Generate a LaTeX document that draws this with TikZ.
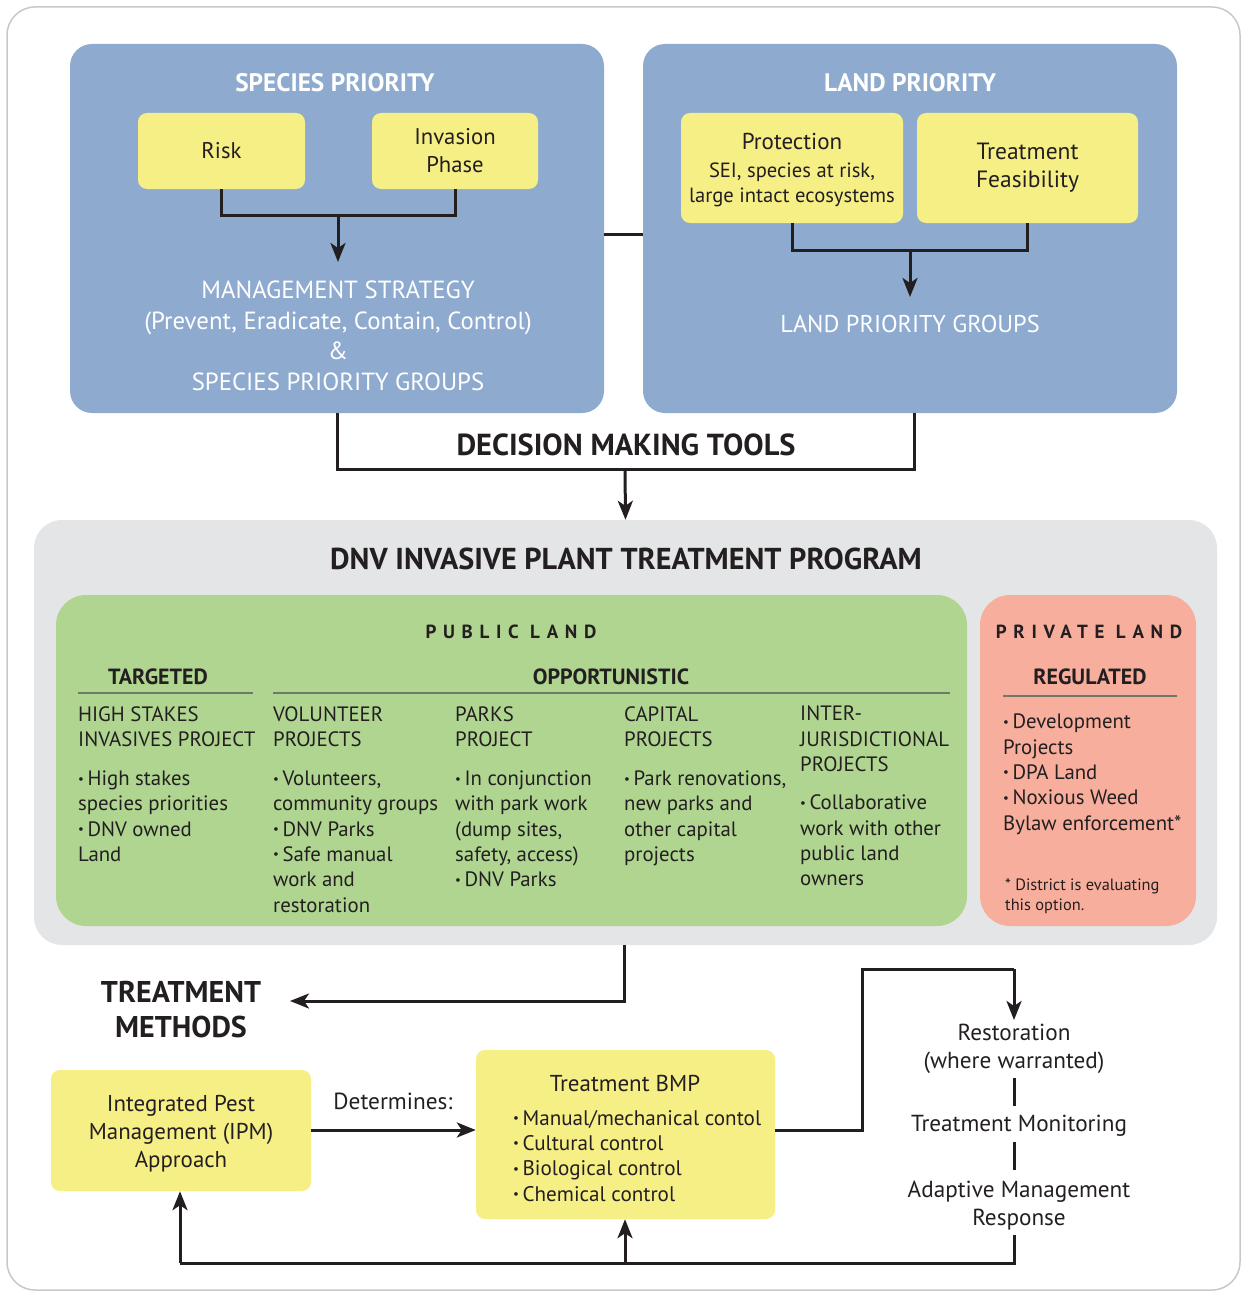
\documentclass[tikz,border=0pt]{standalone}
\usepackage{fontspec}
\setmainfont{PT Sans}
\newfontfamily\spacedfont{PT Sans}[LetterSpace=35]
\usetikzlibrary{arrows.meta}
\definecolor{bluebox}{HTML}{8EABCF}
\definecolor{yelbox}{HTML}{F6EF86}
\definecolor{graybox}{HTML}{E4E5E7}
\definecolor{greenbox}{HTML}{AFD591}
\definecolor{pinkbox}{HTML}{F7AE9C}
\definecolor{ink}{HTML}{231F20}
\definecolor{rulegray}{HTML}{6D7A68}
\definecolor{framegray}{HTML}{C8C8C8}
\newcommand{\fsz}[2]{\fontsize{#1}{#2}\selectfont}
\newcommand{\bul}{\raisebox{0.25ex}{\scalebox{0.62}{\textbullet}}\kern3.5pt}
\tikzset{
  conn/.style={draw=ink, line width=3pt},
  arr/.style={conn, -{Stealth[length=19pt,width=15pt,inset=5pt]}},
  ybox/.style={fill=yelbox, rounded corners=9pt, inner sep=0pt, align=center, text=ink},
  panel/.style={fill=bluebox, rounded corners=22pt},
  coltext/.style={anchor=north west, inner sep=0pt, align=left, text=ink, font=\fsz{20.8}{25.3}},
  hdr/.style={inner sep=0pt, text=ink, font=\fsz{22}{24}\bfseries},
  wtitle/.style={inner sep=0pt, text=white, font=\fsz{25.3}{28}\bfseries},
  wtext/.style={inner sep=0pt, text=white, align=center, font=\fsz{24.8}{30.5}},
  plain/.style={inner sep=0pt, text=ink, align=center, font=\fsz{23.2}{28}},
}
\begin{document}
\begin{tikzpicture}[x=1pt,y=-1pt]
\useasboundingbox (0,0) rectangle (1242,1295);
% outer frame
\draw[framegray, line width=1.5pt, rounded corners=28pt] (7,7) rectangle (1240,1290);

% ---------- species priority panel
\node[panel, minimum width=534, minimum height=369] (spec) at (337,228.5) {};
\node[wtitle] (spectitle) at (335,83) {SPECIES PRIORITY};
\node[ybox, minimum width=167, minimum height=76, font=\fsz{22.7}{28}] (risk) at (221.5,151) {Risk};
\node[ybox, minimum width=166, minimum height=76, font=\fsz{22.7}{28}] (inv) at (455,151) {Invasion\\Phase};
\node[wtext] (mgmt) at (338,336) {MANAGEMENT STRATEGY\\(Prevent, Eradicate, Contain, Control)\\\&\\SPECIES PRIORITY GROUPS};
\coordinate (sj) at (338,215);
\coordinate (sa) at (338,262);
\draw[conn] (risk.south) -- (risk.south |- sj) -| (inv.south);
\draw[arr] (sj) -- (sa);

% ---------- land priority panel
\node[panel, minimum width=534, minimum height=369] (land) at (910,228.5) {};
\node[wtitle] (landtitle) at (910,83) {LAND PRIORITY};
\node[ybox, minimum width=222, minimum height=110] (prot) at (792,168) {};
\node[inner sep=0pt, align=center, text=ink, font=\fsz{20.6}{25}] (prottext) at (792,170.5)
  {{\fontsize{23}{25}\selectfont Protection}\\[3pt]SEI, species at risk,\\large intact ecosystems};
\node[ybox, minimum width=221, minimum height=110, font=\fsz{23.5}{28}] (feas) at (1027.5,168) {Treatment\\Feasibility};
\node[inner sep=0pt, text=white, font=\fsz{24.3}{28}] (lpg) at (910,324) {LAND PRIORITY GROUPS};
\coordinate (lj) at (910,250);
\coordinate (la) at (910,297);
\draw[conn] (prot.south) -- (prot.south |- lj) -| (feas.south);
\draw[arr] (lj) -- (la);

% link between panels
\draw[conn] (spec.east |- 0,234) -- (land.west |- 0,234);

% ---------- decision making tools
\coordinate (d1) at (337,413);
\coordinate (d2) at (337,469);
\coordinate (d3) at (914,469);
\coordinate (d4) at (914,413);
\coordinate (dm) at (625,469);
\node[inner sep=0pt, text=ink, font=\fsz{30.4}{32}\bfseries] (dmt) at (626,445) {DECISION MAKING TOOLS};
\draw[conn] (d1) -- (d2) -- (d3) -- (d4);

% ---------- program panel
\node[fill=graybox, rounded corners=28pt, minimum width=1183, minimum height=425] (prog) at (625.5,732.5) {};
\draw[arr] (dm) -- (prog.north);
\node[inner sep=0pt, text=ink, font=\fsz{30.2}{32}\bfseries] (progtitle) at (626,559) {DNV INVASIVE PLANT TREATMENT PROGRAM};

\node[fill=greenbox, rounded corners=30pt, minimum width=911, minimum height=331] (pub) at (511.5,760.5) {};
\node[fill=pinkbox, rounded corners=30pt, minimum width=216, minimum height=331] (priv) at (1088,760.5) {};

\node[inner sep=0pt, text=ink, font=\fsz{19}{22}\spacedfont\bfseries] (publab) at (511,632) {PUBLIC LAND};
\node[inner sep=0pt, text=ink, font=\fsz{19}{22}\spacedfont\bfseries] (privlab) at (1089,632) {PRIVATE LAND};

\node[hdr] (targ) at (158,677) {TARGETED};
\node[hdr] (opp) at (611,677) {OPPORTUNISTIC};
\node[hdr] (reg) at (1090,677) {REGULATED};
\draw[rulegray, line width=1.8pt] (78,693) -- (253,693);
\draw[rulegray, line width=1.8pt] (273,693) -- (950,693);
\draw[rulegray, line width=1.8pt] (1003,696) -- (1177,696);

\node[coltext] (c1) at (78,706) {HIGH STAKES\\INVASIVES PROJECT\\[14pt]\bul High stakes\\species priorities\\\bul DNV owned\\Land};
\node[coltext] (c2) at (273,706) {VOLUNTEER\\PROJECTS\\[14pt]\bul Volunteers,\\community groups\\\bul DNV Parks\\\bul Safe manual\\work and\\restoration};
\node[coltext] (c3) at (455,706) {PARKS\\PROJECT\\[14pt]\bul In conjunction\\with park work\\(dump sites,\\safety, access)\\\bul DNV Parks};
\node[coltext] (c4) at (624,706) {CAPITAL\\PROJECTS\\[14pt]\bul Park renovations,\\new parks and\\other capital\\projects};
\node[coltext] (c5) at (800,706) {INTER-\\JURISDICTIONAL\\PROJECTS\\[13pt]\bul Collaborative\\work with other\\public land\\owners};
\node[coltext] (c6) at (1003,714) {\bul Development\\Projects\\\bul DPA Land\\\bul Noxious Weed\\Bylaw enforcement*};
\node[coltext, font=\fsz{16.4}{20}] (foot) at (1005,879) {* District is evaluating\\this option.};

% ---------- treatment methods
\node[inner sep=0pt, text=ink, align=center, font=\fsz{30}{35}\bfseries] (tm) at (181,1009.5) {TREATMENT\\METHODS};
\coordinate (t1) at (624,1001);
\coordinate (t2) at (290,1001);
\draw[arr] (prog.south -| t1) -- (t1) -- (t2);

\node[ybox, minimum width=260, minimum height=121] (ipm) at (181,1130.5) {};
\node[plain, font=\fsz{22.9}{28}] (ipmtext) at (181,1134) {Integrated Pest\\Management (IPM)\\Approach};
\node[ybox, minimum width=299, minimum height=169] (bmp) at (625.5,1134.5) {};
\node[inner sep=0pt, text=ink, font=\fsz{23}{28}] (bmpt) at (625,1083) {Treatment BMP};
\node[coltext, font=\fsz{21.1}{25.3}] (bmpl) at (513,1110) {\bul Manual/mechanical contol\\\bul Cultural control\\\bul Biological control\\\bul Chemical control};
\node[inner sep=0pt, text=ink, font=\fsz{23.3}{28}] (det) at (393,1101) {Determines:};
\draw[arr] (ipm.east |- 0,1130) -- (bmp.west |- 0,1130);

\node[plain] (rest) at (1014,1049) {Restoration\\(where warranted)};
\node[plain] (mon) at (1019,1126) {Treatment Monitoring};
\node[plain] (adap) at (1019,1206) {Adaptive Management\\Response};
\coordinate (r1) at (862,1130);
\coordinate (r2) at (862,969);
\coordinate (r3) at (1014,969);
\coordinate (r4) at (1014,1020);
\draw[conn] (bmp.east |- r1) -- (r1) -- (r2) -- (r3);
\draw[arr] (r3) -- (r4);
\draw[conn] (1014,1078) -- (1014,1106);
\draw[conn] (1014,1142) -- (1014,1170);
\coordinate (b1) at (1014,1235);
\coordinate (b2) at (1014,1263);
\coordinate (b3) at (180,1263);
\coordinate (b4) at (625,1263);
\draw[conn] (b1) -- (b2) -- (b3);
\draw[arr] (b3) -- (ipm.south -| b3);
\draw[arr] (b4) -- (bmp.south -| b4);
\end{tikzpicture}
\end{document}
